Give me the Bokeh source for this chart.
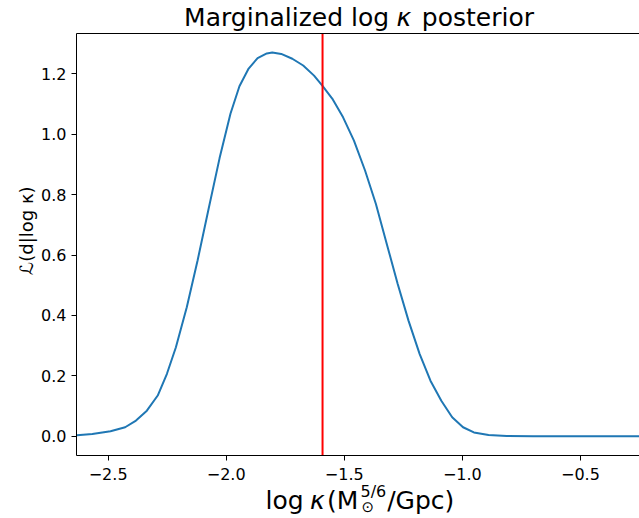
import numpy as np
from bokeh.plotting import figure
from bokeh.models import Label, FixedTicker, LinearAxis, Range1d
from bokeh.embed import file_html
from bokeh.resources import INLINE

# ---- data ----
log_kappa = [-2.632, -2.567, -2.490, -2.428, -2.382, -2.336, -2.290, -2.251, -2.213,
             -2.167, -2.121, -2.074, -2.028, -1.982, -1.944, -1.905, -1.867, -1.828,
             -1.805, -1.767, -1.720, -1.674, -1.628, -1.593, -1.551, -1.505, -1.459,
             -1.412, -1.366, -1.320, -1.274, -1.228, -1.181, -1.135, -1.089, -1.043,
             -0.997, -0.951, -0.889, -0.812, -0.700, -0.500, -0.246]
likelihood = [0.0034, 0.0078, 0.0167, 0.030, 0.052, 0.085, 0.135, 0.207, 0.295,
              0.427, 0.583, 0.755, 0.921, 1.068, 1.159, 1.2175, 1.252, 1.2676,
              1.2705, 1.266, 1.250, 1.2275, 1.194, 1.161, 1.118, 1.056, 0.979,
              0.880, 0.769, 0.637, 0.505, 0.383, 0.273, 0.184, 0.118, 0.063,
              0.030, 0.013, 0.0045, 0.001, 0.0, 0.0, 0.0]
true_log_kappa = -1.592

xlim = (-2.634, -0.237)
ylim = (-0.0635, 1.3335)

xtick_vals = [-2.5, -2.0, -1.5, -1.0, -0.5]
xtick_labels = ["\u22122.5", "\u22122.0", "\u22121.5", "\u22121.0", "\u22120.5"]
ytick_vals = [0.0, 0.2, 0.4, 0.6, 0.8, 1.0, 1.2]
ytick_labels = ["0.0", "0.2", "0.4", "0.6", "0.8", "1.0", "1.2"]

FONT = "DejaVu Sans"

# ---- layout (pixels): canvas and axes box ----
W, H = 639, 518
BOX_L, BOX_R, BOX_T, BOX_B = 76, 642, 33, 455

sx = (xlim[1] - xlim[0]) / (BOX_R - BOX_L)
sy = (ylim[1] - ylim[0]) / (BOX_B - BOX_T)
x_range = Range1d(xlim[0] - BOX_L * sx, xlim[0] + (W - BOX_L) * sx)
y_range = Range1d(ylim[0] - (H - BOX_B) * sy, ylim[1] + BOX_T * sy)

p = figure(width=W, height=H, output_backend="svg", toolbar_location=None,
           x_range=x_range, y_range=y_range,
           min_border_left=0, min_border_right=0, min_border_top=0, min_border_bottom=0)
p.title.visible = False
p.background_fill_color = "white"
p.border_fill_color = "white"
p.outline_line_color = None
p.grid.visible = False

p.line(log_kappa, likelihood, line_color="#1f77b4", line_width=2)
p.segment(x0=[true_log_kappa], y0=[ylim[0]], x1=[true_log_kappa], y1=[ylim[1]],
          line_color="#ff0000", line_width=2)

xaxis = p.xaxis[0]
yaxis = p.yaxis[0]
xaxis.fixed_location = ylim[0]
xaxis.bounds = xlim
yaxis.fixed_location = xlim[0]
yaxis.bounds = ylim

for ax in (xaxis, yaxis):
    ax.axis_line_color = "black"
    ax.axis_line_width = 1
    ax.major_tick_line_color = "black"
    ax.major_tick_line_width = 1
    ax.major_tick_in = 0
    ax.major_tick_out = 5
    ax.minor_tick_line_color = None
    ax.major_label_text_font = FONT
    ax.major_label_text_font_size = "16px"
    ax.major_label_text_color = "black"
    ax.major_label_standoff = 5

xaxis.major_label_standoff = 7
xaxis.ticker = FixedTicker(ticks=xtick_vals)
xaxis.major_label_overrides = dict(zip(xtick_vals, xtick_labels))
yaxis.ticker = FixedTicker(ticks=ytick_vals)
yaxis.major_label_overrides = dict(zip(ytick_vals, ytick_labels))

top_axis = LinearAxis(fixed_location=ylim[1], bounds=xlim,
                      axis_line_color="black", axis_line_width=1,
                      major_tick_line_color=None, minor_tick_line_color=None,
                      major_label_text_font_size="0px", ticker=FixedTicker(ticks=[]))
p.add_layout(top_axis, "above")

# texts, positioned in canvas pixels (x from left, y = baseline from top)
SHIFT = 0.27  # baseline correction, in em


def lab(text, px, py, size, style="normal", align="left", angle=0.0):
    s = float(size.replace("px", ""))
    if angle == 0.0:
        py = py - SHIFT * s
    else:
        px = px - SHIFT * s
    p.add_layout(Label(x=px, y=H - py, x_units="screen", y_units="screen",
                       text=text, text_font=FONT, text_font_size=size,
                       text_font_style=style, text_align=align,
                       text_baseline="alphabetic", text_color="black", angle=angle))


# title
lab("Marginalized log", 183.6, 23.3, "25px")
lab("\u03ba", 396, 23.3, "25px", style="italic")
lab("posterior", 533.5, 23.3, "25px", align="right")
# x label
lab("log", 265, 507, "25px")
lab("\u03ba", 309.5, 507, "25px", style="italic")
lab("(M", 326.5, 507, "25px")
lab("5/6", 360, 495, "16px")
lab("\u2299", 361, 511, "15px")
lab("/Gpc)", 386.7, 507, "25px")
# y label
lab("\u2112(d|log \u03ba)", 31, 230, "18px", align="center", angle=np.pi / 2)

open("out.html", "w").write(file_html(p, INLINE))
